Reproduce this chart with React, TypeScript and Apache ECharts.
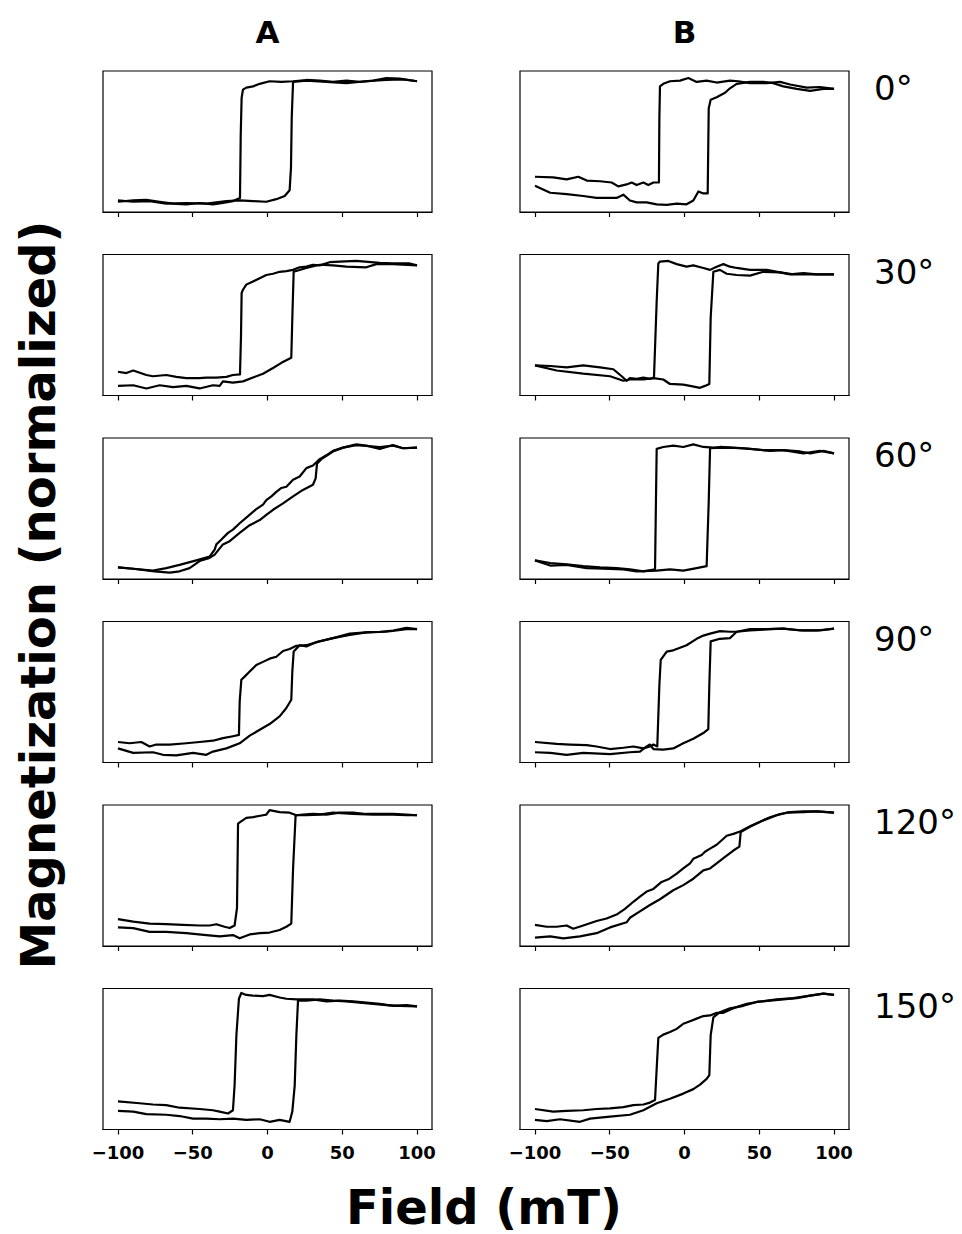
import React, { useEffect, useRef } from "react";
import * as echarts from "echarts";

type Pt = [number, number];

const fieldTicks = [-100, -50, 0, 50, 100];
const columnTitles = ["A", "B"];
const angleLabels = ["0°", "30°", "60°", "90°", "120°", "150°"];
const xTitle = "Field (mT)";
const yTitle = "Magnetization (normalized)";

// ---- 0° ----
const a0Desc: Pt[] = [[100,0.94],[88.4,0.98],[79.5,0.99],[70.6,0.95],[61.7,0.93],[52.7,0.95],[43.8,0.93],[34.9,0.95],[26.0,0.96],[17.1,0.94],[9.3,0.93],[1.4,0.94],[-5.2,0.90],[-9.7,0.86],[-14.2,0.84],[-16.4,0.81],[-17.3,0.68],[-17.9,0.11],[-18.4,-0.88],[-23.1,-0.93],[-29.8,-0.96],[-36.5,-0.98],[-45.4,-0.96],[-54.3,-0.98],[-63.2,-0.97],[-72.1,-0.94],[-81.0,-0.91],[-89.8,-0.92],[-100,-0.94]];
const a0Asc: Pt[] = [[-100,-0.92],[-89.8,-0.94],[-78.8,-0.93],[-67.7,-0.97],[-54.3,-0.96],[-40.9,-0.97],[-27.5,-0.93],[-18.6,-0.92],[-9.7,-0.93],[-0.8,-0.94],[5.9,-0.90],[11.5,-0.85],[14.8,-0.76],[15.7,-0.41],[16.2,0.37],[17.1,0.93],[26.0,0.95],[39.4,0.93],[52.7,0.91],[66.1,0.94],[79.5,0.96],[90.6,0.97],[100,0.94]];
const b0Desc: Pt[] = [[100,0.82],[90.6,0.85],[81.7,0.84],[70.6,0.89],[63.9,0.93],[55.0,0.91],[43.8,0.91],[36.0,0.94],[30.4,0.95],[21.5,0.92],[14.8,0.95],[8.1,0.93],[2.6,0.99],[-3.0,0.95],[-9.7,0.94],[-14.2,0.90],[-16.4,0.86],[-16.8,0.37],[-17.1,-0.64],[-20.8,-0.64],[-24.2,-0.68],[-27.5,-0.64],[-32.0,-0.68],[-35.3,-0.64],[-38.7,-0.67],[-44.3,-0.70],[-48.7,-0.64],[-56.5,-0.62],[-65.4,-0.61],[-71.0,-0.55],[-78.8,-0.59],[-87.8,-0.56],[-100,-0.55]];
const b0Asc: Pt[] = [[-100,-0.69],[-89.8,-0.80],[-78.8,-0.82],[-67.7,-0.85],[-58.8,-0.88],[-45.4,-0.88],[-40.9,-0.83],[-36.5,-0.92],[-32.0,-0.95],[-25.3,-0.95],[-18.6,-0.98],[-11.9,-0.99],[-5.2,-0.97],[1.4,-0.98],[5.9,-0.92],[9.3,-0.78],[12.6,-0.81],[15.5,-0.81],[16.2,0.52],[17.5,0.65],[21.5,0.69],[27.1,0.76],[30.4,0.83],[34.9,0.90],[43.8,0.93],[52.7,0.93],[59.4,0.91],[66.1,0.86],[75.1,0.82],[84.0,0.79],[92.9,0.82],[100,0.82]];

// ---- 30° ----
const a30Desc: Pt[] = [[100,0.93],[95.1,0.96],[84.0,0.96],[75.1,0.97],[59.4,1.00],[48.3,0.99],[41.6,0.98],[34.9,0.93],[30.4,0.94],[26.0,0.91],[21.5,0.90],[17.1,0.86],[12.6,0.84],[8.1,0.83],[3.7,0.80],[-0.8,0.78],[-5.2,0.73],[-9.7,0.68],[-14.2,0.63],[-16.4,0.55],[-17.3,0.50],[-17.7,-0.15],[-18.4,-0.77],[-23.1,-0.78],[-27.5,-0.81],[-34.2,-0.82],[-40.9,-0.82],[-45.4,-0.83],[-54.3,-0.83],[-61.0,-0.81],[-67.7,-0.78],[-76.6,-0.80],[-81.0,-0.78],[-89.8,-0.71],[-94.4,-0.75],[-100,-0.73]];
const a30Asc: Pt[] = [[-100,-0.95],[-89.8,-0.94],[-81.0,-0.99],[-72.1,-0.94],[-63.2,-0.97],[-54.3,-0.95],[-45.4,-0.99],[-36.5,-0.94],[-32.0,-0.95],[-29.8,-0.88],[-23.1,-0.90],[-16.4,-0.88],[-9.7,-0.82],[-3.0,-0.76],[3.7,-0.67],[9.3,-0.59],[15.9,-0.51],[16.6,0.11],[17.5,0.83],[26.0,0.89],[34.9,0.94],[43.8,0.93],[52.7,0.91],[66.1,0.90],[72.8,0.95],[84.0,0.95],[100,0.93]];
const b30Desc: Pt[] = [[100,0.79],[88.4,0.79],[79.5,0.81],[70.6,0.79],[63.9,0.82],[55.0,0.86],[43.8,0.86],[34.9,0.89],[30.4,0.91],[26.0,0.95],[21.5,0.91],[17.1,0.86],[12.6,0.89],[5.9,0.93],[1.4,0.91],[-5.2,0.95],[-10.8,1.00],[-16.4,0.99],[-17.5,0.96],[-18.6,0.37],[-20.4,-0.82],[-23.1,-0.84],[-27.5,-0.82],[-32.0,-0.84],[-36.5,-0.83],[-38.7,-0.87],[-42.0,-0.80],[-47.6,-0.69],[-56.5,-0.66],[-67.7,-0.63],[-78.8,-0.66],[-89.8,-0.64],[-100,-0.63]];
const b30Asc: Pt[] = [[-100,-0.63],[-85.5,-0.71],[-67.7,-0.76],[-49.8,-0.80],[-40.9,-0.87],[-36.5,-0.85],[-27.5,-0.85],[-20.8,-0.83],[-14.2,-0.85],[-9.7,-0.92],[-0.8,-0.93],[3.7,-0.95],[10.4,-0.98],[13.7,-0.95],[16.6,-0.92],[17.5,0.11],[19.3,0.83],[23.7,0.86],[28.2,0.80],[34.9,0.78],[43.8,0.77],[52.7,0.83],[63.9,0.82],[72.8,0.79],[84.0,0.79],[100,0.79]];

// ---- 60° ----
const a60Desc: Pt[] = [[100,0.95],[90.6,0.94],[84.0,0.99],[75.1,0.93],[66.1,0.98],[59.4,1.00],[50.5,0.95],[43.8,0.90],[39.4,0.83],[34.9,0.77],[30.4,0.67],[26.0,0.63],[21.5,0.50],[17.1,0.45],[12.6,0.34],[9.3,0.32],[5.9,0.26],[2.6,0.19],[-0.8,0.13],[-3.0,0.06],[-7.5,-0.01],[-13.0,-0.12],[-18.6,-0.23],[-23.1,-0.33],[-26.4,-0.38],[-32.0,-0.51],[-34.2,-0.56],[-35.3,-0.64],[-38.7,-0.75],[-47.6,-0.81],[-58.8,-0.88],[-67.7,-0.93],[-76.6,-0.97],[-89.8,-0.94],[-100,-0.92]];
const a60Asc: Pt[] = [[-100,-0.92],[-89.8,-0.94],[-75.5,-0.98],[-65.4,-1.00],[-58.8,-0.98],[-52.1,-0.93],[-45.4,-0.82],[-38.7,-0.77],[-35.3,-0.72],[-29.8,-0.56],[-25.3,-0.51],[-18.6,-0.38],[-11.9,-0.26],[-5.2,-0.18],[-0.8,-0.10],[3.7,-0.02],[10.4,0.08],[17.1,0.19],[23.7,0.29],[30.4,0.37],[32.2,0.47],[33.1,0.70],[36.0,0.77],[43.8,0.89],[50.5,0.95],[59.4,0.99],[75.1,0.96],[84.0,0.98],[90.6,0.94],[100,0.95]];
const b60Desc: Pt[] = [[100,0.86],[92.9,0.90],[84.0,0.86],[77.3,0.89],[66.1,0.91],[57.2,0.90],[43.8,0.93],[32.7,0.95],[23.7,0.96],[19.3,0.95],[12.6,0.96],[5.9,1.00],[-0.8,0.96],[-7.5,0.98],[-14.2,0.96],[-18.6,0.93],[-19.1,0.11],[-19.7,-0.95],[-27.5,-0.98],[-36.5,-0.95],[-45.4,-0.93],[-56.5,-0.92],[-67.7,-0.90],[-78.8,-0.87],[-89.8,-0.85],[-100,-0.81]];
const b60Asc: Pt[] = [[-100,-0.81],[-89.8,-0.89],[-78.8,-0.88],[-65.4,-0.93],[-54.3,-0.94],[-40.9,-0.95],[-32.0,-0.98],[-18.6,-0.97],[-9.7,-0.95],[-0.8,-0.97],[8.1,-0.93],[14.8,-0.90],[16.2,0.11],[17.1,0.94],[26.0,0.95],[39.4,0.94],[52.7,0.91],[66.1,0.91],[79.5,0.86],[90.6,0.90],[100,0.86]];

// ---- 90° ----
const a90Desc: Pt[] = [[100,0.98],[92.9,1.00],[84.0,0.96],[75.1,0.94],[66.1,0.93],[55.0,0.89],[43.8,0.84],[34.9,0.79],[26.0,0.73],[19.3,0.72],[14.8,0.67],[10.4,0.64],[5.9,0.55],[1.4,0.52],[-3.0,0.47],[-7.5,0.42],[-11.9,0.32],[-15.3,0.24],[-17.5,0.19],[-18.6,-0.15],[-19.1,-0.67],[-23.1,-0.69],[-29.8,-0.72],[-36.5,-0.76],[-45.4,-0.78],[-54.3,-0.80],[-65.4,-0.82],[-74.4,-0.82],[-78.8,-0.85],[-84.4,-0.78],[-92.2,-0.80],[-100,-0.78]];
const a90Asc: Pt[] = [[-100,-0.88],[-89.8,-0.95],[-76.6,-0.94],[-69.9,-0.98],[-61.0,-0.99],[-49.8,-0.95],[-40.9,-0.98],[-36.5,-0.93],[-27.5,-0.88],[-18.6,-0.80],[-11.9,-0.68],[-5.2,-0.59],[1.4,-0.50],[8.1,-0.38],[12.6,-0.25],[15.9,-0.12],[16.6,0.32],[17.5,0.63],[21.5,0.73],[26.0,0.71],[32.7,0.78],[43.8,0.84],[55.0,0.91],[66.1,0.93],[79.5,0.94],[86.2,0.96],[92.9,0.98],[100,0.98]];
const b90Desc: Pt[] = [[100,0.99],[88.4,0.96],[77.3,0.96],[66.1,0.99],[55.0,0.98],[43.8,0.98],[34.9,0.94],[30.4,0.94],[23.7,0.95],[17.1,0.91],[12.6,0.88],[8.1,0.83],[1.4,0.73],[-3.0,0.69],[-7.5,0.65],[-11.9,0.63],[-15.9,0.50],[-16.8,0.11],[-18.2,-0.85],[-20.8,-0.82],[-23.1,-0.85],[-27.5,-0.88],[-34.2,-0.85],[-40.9,-0.87],[-49.8,-0.89],[-58.8,-0.85],[-65.4,-0.83],[-76.6,-0.82],[-85.5,-0.81],[-100,-0.78]];
const b90Asc: Pt[] = [[-100,-0.94],[-89.8,-0.95],[-78.8,-0.98],[-67.7,-0.95],[-49.8,-0.97],[-36.5,-0.94],[-29.8,-0.93],[-25.3,-0.85],[-23.1,-0.82],[-20.8,-0.89],[-14.2,-0.90],[-7.5,-0.88],[-0.8,-0.80],[5.9,-0.73],[12.6,-0.64],[15.9,-0.58],[16.6,0.11],[17.5,0.79],[23.7,0.83],[30.4,0.84],[34.9,0.94],[43.8,0.96],[57.2,0.98],[66.1,0.99],[79.5,0.96],[90.6,0.96],[100,0.99]];

// ---- 120° ----
const a120Desc: Pt[] = [[100,0.94],[92.9,0.95],[84.0,0.96],[75.1,0.96],[66.1,0.96],[57.2,0.98],[48.3,0.98],[39.4,0.95],[30.4,0.96],[23.7,0.95],[19.3,0.94],[14.8,0.98],[8.1,0.99],[1.4,1.02],[-0.8,0.95],[-3.0,0.94],[-9.7,0.91],[-14.2,0.90],[-18.6,0.83],[-19.7,0.81],[-20.4,-0.51],[-22.0,-0.78],[-25.3,-0.82],[-28.7,-0.80],[-34.2,-0.76],[-38.7,-0.78],[-45.4,-0.78],[-56.5,-0.77],[-67.7,-0.76],[-78.8,-0.75],[-89.8,-0.72],[-100,-0.68]];
const a120Asc: Pt[] = [[-100,-0.81],[-89.8,-0.82],[-78.8,-0.88],[-67.7,-0.88],[-54.3,-0.90],[-40.9,-0.93],[-32.0,-0.95],[-23.1,-0.93],[-18.6,-0.98],[-11.9,-0.92],[-5.2,-0.90],[1.4,-0.89],[8.1,-0.85],[12.6,-0.80],[15.9,-0.75],[17.1,0.11],[18.8,0.94],[26.0,0.94],[34.9,0.95],[43.8,0.98],[57.2,0.96],[70.6,0.95],[84.0,0.95],[92.9,0.94],[100,0.94]];
const b120Desc: Pt[] = [[100,0.98],[88.4,1.00],[79.5,1.00],[70.6,0.99],[63.9,0.96],[57.2,0.91],[50.5,0.84],[43.8,0.77],[37.6,0.69],[32.7,0.65],[28.2,0.62],[24.9,0.55],[21.5,0.48],[17.1,0.42],[13.7,0.37],[11.5,0.32],[5.9,0.26],[3.7,0.19],[-0.8,0.11],[-5.2,0.03],[-10.8,-0.06],[-15.3,-0.10],[-20.8,-0.21],[-25.3,-0.25],[-29.8,-0.33],[-34.2,-0.41],[-39.8,-0.52],[-45.4,-0.61],[-52.1,-0.67],[-58.8,-0.71],[-67.7,-0.78],[-74.4,-0.83],[-78.8,-0.78],[-85.5,-0.80],[-92.2,-0.80],[-100,-0.77]];
const b120Asc: Pt[] = [[-100,-0.97],[-89.8,-0.95],[-81.0,-0.98],[-69.9,-0.95],[-58.8,-0.90],[-49.8,-0.81],[-38.7,-0.73],[-36.5,-0.66],[-29.8,-0.56],[-23.1,-0.46],[-16.4,-0.37],[-7.5,-0.23],[-0.8,-0.15],[5.9,-0.05],[12.6,0.08],[17.1,0.11],[21.5,0.19],[27.1,0.29],[32.7,0.39],[36.7,0.45],[37.6,0.68],[43.8,0.76],[52.7,0.86],[61.7,0.94],[68.4,0.98],[79.5,0.99],[88.4,1.00],[100,0.98]];

// ---- 150° ----
const a150Desc: Pt[] = [[100,0.82],[92.9,0.84],[84.0,0.83],[75.1,0.86],[66.1,0.88],[57.2,0.90],[48.3,0.91],[39.4,0.90],[30.4,0.93],[21.5,0.93],[19.3,0.93],[12.6,0.94],[8.1,0.96],[1.4,1.00],[-3.0,0.98],[-9.7,0.99],[-14.2,1.00],[-17.5,1.03],[-19.1,0.94],[-20.8,0.37],[-22.0,-0.41],[-23.1,-0.80],[-26.4,-0.85],[-32.0,-0.82],[-36.5,-0.80],[-45.4,-0.78],[-58.8,-0.76],[-67.7,-0.72],[-76.6,-0.71],[-85.5,-0.69],[-100,-0.66]];
const a150Asc: Pt[] = [[-100,-0.81],[-89.8,-0.82],[-81.0,-0.86],[-67.7,-0.87],[-58.8,-0.89],[-49.8,-0.93],[-40.9,-0.93],[-32.0,-0.94],[-23.1,-0.93],[-14.2,-0.95],[-5.2,-0.94],[1.4,-0.98],[8.1,-0.95],[14.8,-0.98],[16.6,-0.82],[18.2,-0.41],[19.3,0.37],[20.4,0.91],[26.0,0.91],[34.9,0.93],[43.8,0.91],[52.7,0.90],[61.7,0.88],[70.6,0.86],[79.5,0.84],[88.4,0.83],[100,0.82]];
const b150Desc: Pt[] = [[100,1.00],[92.9,1.02],[84.0,0.99],[75.1,0.95],[66.1,0.93],[57.2,0.91],[48.3,0.89],[41.6,0.86],[34.9,0.81],[30.4,0.77],[26.0,0.72],[21.5,0.72],[17.1,0.68],[12.6,0.67],[8.1,0.63],[3.7,0.59],[-0.8,0.55],[-5.2,0.47],[-9.7,0.42],[-14.2,0.38],[-17.5,0.33],[-18.6,-0.15],[-19.7,-0.64],[-23.1,-0.68],[-27.5,-0.71],[-34.2,-0.72],[-40.9,-0.75],[-49.8,-0.77],[-58.8,-0.78],[-67.7,-0.80],[-78.8,-0.81],[-87.8,-0.82],[-100,-0.78]];
const b150Asc: Pt[] = [[-100,-0.95],[-92.2,-0.97],[-83.3,-0.94],[-69.9,-0.98],[-63.2,-0.93],[-49.8,-0.90],[-36.5,-0.87],[-27.5,-0.80],[-18.6,-0.69],[-9.7,-0.62],[-0.8,-0.54],[5.9,-0.47],[10.4,-0.40],[14.8,-0.31],[16.6,-0.25],[17.5,0.37],[19.3,0.65],[23.7,0.73],[30.4,0.79],[39.4,0.83],[48.3,0.89],[61.7,0.93],[72.8,0.95],[84.0,0.99],[92.9,1.02],[100,1.00]];

// panels in row-major order: [A, B] for each angle
const loops: Pt[][][] = [
  [a0Desc, a0Asc], [b0Desc, b0Asc],
  [a30Desc, a30Asc], [b30Desc, b30Asc],
  [a60Desc, a60Asc], [b60Desc, b60Asc],
  [a90Desc, a90Asc], [b90Desc, b90Asc],
  [a120Desc, a120Asc], [b120Desc, b120Asc],
  [a150Desc, a150Asc], [b150Desc, b150Asc],
];

const FONT = '"DejaVu Sans", "Liberation Sans", sans-serif';

export default function App() {
  const ref = useRef<HTMLDivElement>(null);
  useEffect(() => {
    document.body.style.margin = "0";
    if (!ref.current) return;
    const chart = echarts.init(ref.current, null, { renderer: "svg" });
    const colLeft = [103, 520];
    const rowTop = [71, 254.5, 438, 621.5, 805, 988.5];
    const W = 329;
    const H = 141;
    const grids: any[] = [];
    const xAxes: any[] = [];
    const yAxes: any[] = [];
    const series: any[] = [];
    const graphics: any[] = [];
    const fmt = (v: number) => (v < 0 ? "\u2212" + Math.abs(v) : String(v));

    for (let r = 0; r < 6; r++) {
      for (let c = 0; c < 2; c++) {
        const idx = r * 2 + c;
        grids.push({
          left: colLeft[c], top: rowTop[r], width: W, height: H,
          show: true, borderColor: "#000", borderWidth: 1.2, backgroundColor: "transparent",
        });
        xAxes.push({
          type: "value", gridIndex: idx, min: -110, max: 110,
          axisLine: { show: true, onZero: false, lineStyle: { color: "#000", width: 1.2 } },
          axisTick: { show: true, length: 5, customValues: fieldTicks, lineStyle: { color: "#000", width: 1.2 } },
          axisLabel: {
            show: r === 5, customValues: fieldTicks, formatter: fmt,
            fontFamily: FONT, fontWeight: "bold", fontSize: 18, color: "#000", margin: 14,
          },
          splitLine: { show: false },
        });
        yAxes.push({ type: "value", gridIndex: idx, min: -1.1, max: 1.1, show: false, splitLine: { show: false } });
        for (const branch of loops[idx]) {
          series.push({
            type: "line", xAxisIndex: idx, yAxisIndex: idx, data: branch,
            symbol: "none", showSymbol: false, silent: true,
            lineStyle: { color: "#000", width: 2.2, join: "round" },
          });
        }
      }
      graphics.push({
        type: "text", x: 874, y: rowTop[r] + 17,
        style: { text: angleLabels[r], font: `34px ${FONT}`, fill: "#000", textAlign: "left", textVerticalAlign: "middle" },
      });
    }
    columnTitles.forEach((t, c) => {
      graphics.push({
        type: "text", x: colLeft[c] + W / 2, y: 32,
        style: { text: t, font: `bold 31px ${FONT}`, fill: "#000", textAlign: "center", textVerticalAlign: "middle" },
      });
    });
    graphics.push({
      type: "text", x: 484, y: 1207,
      style: { text: xTitle, font: `bold 48px ${FONT}`, fill: "#000", textAlign: "center", textVerticalAlign: "middle" },
    });
    graphics.push({
      type: "text", x: 38, y: 595, rotation: Math.PI / 2,
      style: { text: yTitle, font: `bold 48px ${FONT}`, fill: "#000", textAlign: "center", textVerticalAlign: "middle" },
    });

    chart.setOption({
      animation: false,
      backgroundColor: "#fff",
      grid: grids,
      xAxis: xAxes,
      yAxis: yAxes,
      series,
      graphic: graphics,
    });
    return () => chart.dispose();
  }, []);
  return <div ref={ref} style={{ width: 962, height: 1234 }} />;
}
